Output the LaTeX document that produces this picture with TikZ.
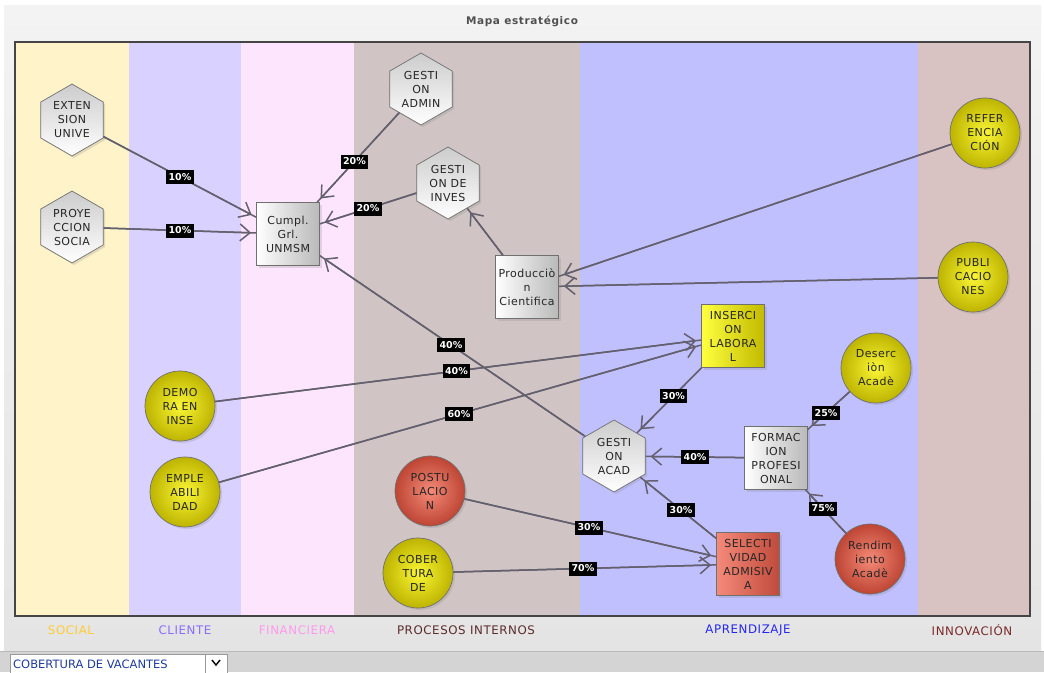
\documentclass[tikz,border=0pt]{standalone}
\usepackage{fontspec}
\setmainfont{DejaVu Sans}
\newfontfamily\nodefont[LetterSpace=4]{DejaVu Sans}
\newfontfamily\lanefont[LetterSpace=5]{DejaVu Sans}
\newfontfamily\titlefont[LetterSpace=6]{DejaVu Sans}
\usetikzlibrary{shapes.geometric,arrows.meta,calc,shadows}
\definecolor{panelTop}{HTML}{F3F3F3}
\definecolor{panelBot}{HTML}{E4E4E4}
\definecolor{stripgray}{HTML}{D4D4D4}
\definecolor{laneSocial}{HTML}{FFF3C9}
\definecolor{laneCliente}{HTML}{D9D1FF}
\definecolor{laneFin}{HTML}{FDE6FD}
\definecolor{laneProc}{HTML}{D0C4C4}
\definecolor{laneApr}{HTML}{C0C0FF}
\definecolor{laneInn}{HTML}{D9C2C2}
\definecolor{txtSocial}{HTML}{FFCC33}
\definecolor{txtCliente}{HTML}{8A6CFF}
\definecolor{txtFin}{HTML}{FF99EE}
\definecolor{txtProc}{HTML}{5B2B2B}
\definecolor{txtApr}{HTML}{2626EE}
\definecolor{txtInn}{HTML}{7B2A2A}
\definecolor{framec}{HTML}{454545}
\definecolor{edgec}{HTML}{64606E}
\definecolor{nodeborder}{HTML}{707070}
\definecolor{yelIn}{HTML}{FAF636}
\definecolor{yelOut}{HTML}{BDB400}
\definecolor{redIn}{HTML}{F48A78}
\definecolor{redOut}{HTML}{BE4534}
\definecolor{yboxL}{HTML}{FFFF40}
\definecolor{yboxR}{HTML}{C2BA00}
\definecolor{rboxL}{HTML}{F58A7A}
\definecolor{rboxR}{HTML}{BF4A3A}
\definecolor{titlec}{HTML}{505050}
\definecolor{dropc}{HTML}{1F3A9F}
\tikzset{
  nodetext/.style={align=center,text=black!85,font=\nodefont\fontsize{11}{14}\selectfont},
  shadowed/.style={drop shadow={opacity=0.22,shadow xshift=2pt,shadow yshift=-2pt}},
  hexnode/.style={nodetext,regular polygon,regular polygon sides=6,shape border rotate=30,
    minimum size=72pt,inner sep=0pt,draw=nodeborder,line width=0.7pt,
    top color=gray!40,bottom color=white,shadowed},
  graybox/.style={nodetext,rectangle,minimum width=63pt,minimum height=63pt,inner sep=0pt,
    draw=nodeborder,line width=0.7pt,left color=white,right color=gray!55,shadowed},
  yellowbox/.style={graybox,left color=yboxL,right color=yboxR},
  redbox/.style={graybox,left color=rboxL,right color=rboxR},
  yelcircle/.style={nodetext,circle,minimum size=70pt,inner sep=0pt,draw=nodeborder,
    line width=0.7pt,inner color=yelIn,outer color=yelOut,shadowed},
  redcircle/.style={yelcircle,inner color=redIn,outer color=redOut},
  edgeline/.style={draw=edgec,line width=1.5pt},
  pct/.style={fill=black,text=white,font=\bfseries\fontsize{9.5}{10}\selectfont,
    inner xsep=2.5pt,inner ysep=0pt,minimum height=14pt},
  lanelabel/.style={font=\lanefont\fontsize{11.8}{13}\selectfont}
}
\newcommand\linkedge[2]{%
  \draw[edgeline] (#1) -- (#2);
  \draw[edgeline,-{Straight Barb[length=10pt,width=17pt]},shorten >=5pt] (#1) -- (#2);}
\newcommand\linklabel[4]{\node[pct] (#1) at ($(#2)!0.5!(#3)$) {#4};}
\begin{document}
\begin{tikzpicture}[x=1pt,y=-1pt]
\useasboundingbox (0,0) rectangle (1044,672);
\fill[white] (0,0) rectangle (1044,672);
\shade[top color=panelTop,bottom color=panelBot] (4,5) rectangle (1041,651);
\fill[stripgray] (0,652) rectangle (1044,672);
\draw[gray!55,line width=1pt] (0,651.5) -- (1044,651.5);
% title
\node[font=\titlefont\bfseries\fontsize{10.5}{12}\selectfont,text=titlec] (title) at (522,21) {Mapa estratégico};
% lanes
\fill[laneSocial] (15,42) rectangle (129,616);
\fill[laneCliente] (129,42) rectangle (241,616);
\fill[laneFin] (241,42) rectangle (354,616);
\fill[laneProc] (354,42) rectangle (580,616);
\fill[laneApr] (580,42) rectangle (918,616);
\fill[laneInn] (918,42) rectangle (1030,616);
\draw[framec,line width=2pt] (15,42) rectangle (1030,616);
% lane labels
\node[lanelabel,text=txtSocial] (lsocial) at (71,630) {SOCIAL};
\node[lanelabel,text=txtCliente] (lcliente) at (185,630) {CLIENTE};
\node[lanelabel,text=txtFin] (lfin) at (297,630) {FINANCIERA};
\node[lanelabel,text=txtProc] (lproc) at (466,630) {PROCESOS INTERNOS};
\node[lanelabel,text=txtApr] (lapr) at (748,630) {APRENDIZAJE};
\node[lanelabel,text=txtInn] (linn) at (972,630) {INNOVACIÓN};
% dropdown
\draw[fill=white,draw=gray!80] (10,654) rectangle (205,673);
\draw[fill=white,draw=gray!80] (205,654) rectangle (227,673);
\node[anchor=west,text=dropc,font=\fontsize{11.5}{13}\selectfont,inner sep=1pt] (drop) at (12,664) {COBERTURA DE VACANTES};
\draw[black,line width=1.4pt] (212,660) -- (216,665) -- (220,660);
% nodes
\node[hexnode] (ext) at (72,120) {EXTEN\\SION\\UNIVE};
\node[hexnode] (pro) at (72,227) {PROYE\\CCION\\SOCIA};
\node[hexnode] (gadm) at (421,89) {GESTI\\ON\\ADMIN};
\node[hexnode] (ginv) at (448,183) {GESTI\\ON DE\\INVES};
\node[hexnode] (gacad) at (614,456) {GESTI\\ON\\ACAD};
\node[graybox] (cum) at (288,234) {Cumpl.\\Grl.\\UNMSM};
\node[graybox] (prod) at (527,287) {Producciò\\n\\Cientifica};
\node[yellowbox] (ins) at (733,336) {INSERCI\\ON\\LABORA\\L};
\node[graybox] (form) at (776,458) {FORMAC\\ION\\PROFESI\\ONAL};
\node[redbox] (sel) at (748,564) {SELECTI\\VIDAD\\ADMISIV\\A};
\node[yelcircle] (dem) at (180,406) {DEMO\\RA EN\\INSE};
\node[yelcircle] (emp) at (185,492) {EMPLE\\ABILI\\DAD};
\node[redcircle] (pos) at (430,491) {POSTU\\LACIO\\N};
\node[yelcircle] (cob) at (418,573) {COBER\\TURA\\DE};
\node[yelcircle] (ref) at (985,133) {REFER\\ENCIA\\CIÓN};
\node[yelcircle] (pub) at (973,277) {PUBLI\\CACIO\\NES};
\node[yelcircle] (des) at (876,368) {Deserc\\iòn\\Acadè};
\node[redcircle] (ren) at (870,559) {Rendim\\iento\\Acadè};
% connectors
\linkedge{ext}{cum}
\linkedge{pro}{cum}
\linkedge{gadm}{cum}
\linkedge{ginv}{cum}
\linkedge{gacad}{cum}
\linkedge{prod}{ginv}
\linkedge{ref}{prod}
\linkedge{pub}{prod}
\linkedge{dem}{ins}
\linkedge{emp}{ins}
\linkedge{ins}{gacad}
\linkedge{form}{gacad}
\linkedge{sel}{gacad}
\linkedge{des}{form}
\linkedge{ren}{form}
\linkedge{pos}{sel}
\linkedge{cob}{sel}
% labels
\linklabel{l1}{ext}{cum}{10\%}
\linklabel{l2}{pro}{cum}{10\%}
\linklabel{l3}{gadm}{cum}{20\%}
\linklabel{l4}{ginv}{cum}{20\%}
\linklabel{l5}{gacad}{cum}{40\%}
\linklabel{l6}{dem}{ins}{40\%}
\linklabel{l7}{emp}{ins}{60\%}
\linklabel{l8}{ins}{gacad}{30\%}
\linklabel{l9}{form}{gacad}{40\%}
\linklabel{l10}{sel}{gacad}{30\%}
\linklabel{l11}{des}{form}{25\%}
\linklabel{l12}{ren}{form}{75\%}
\linklabel{l13}{pos}{sel}{30\%}
\linklabel{l14}{cob}{sel}{70\%}
\end{tikzpicture}
\end{document}
